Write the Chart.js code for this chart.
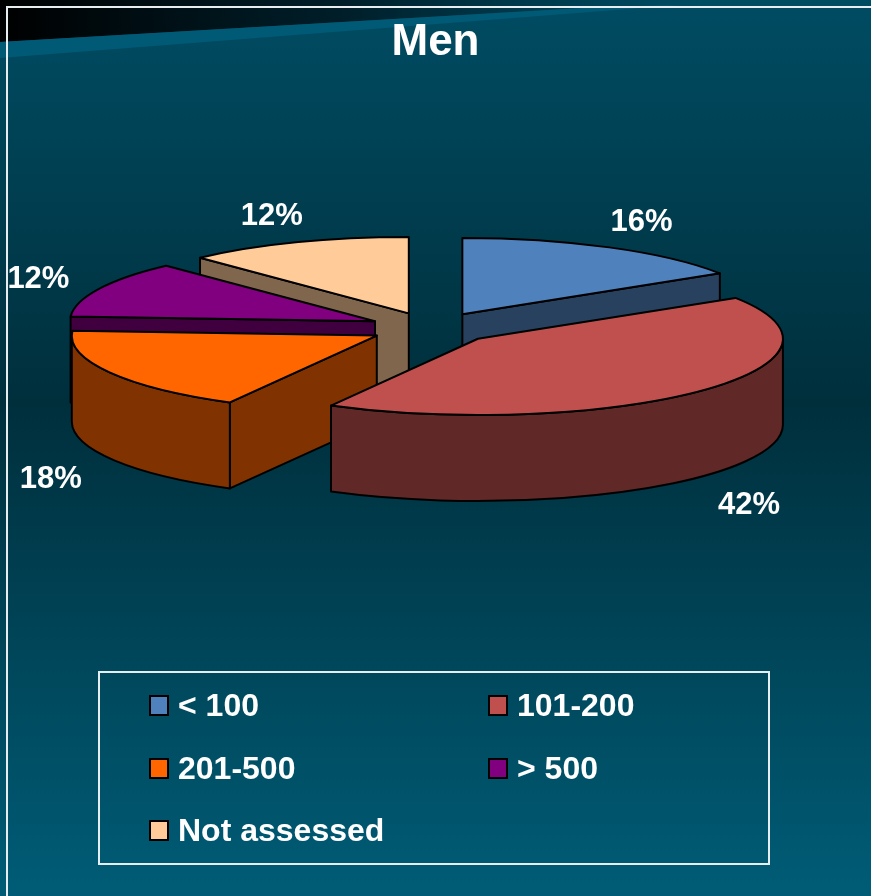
<!DOCTYPE html>
<html>
<head>
<meta charset="utf-8">
<title>Men</title>
<script src="https://cdn.jsdelivr.net/npm/chart.js@4.4.0/dist/chart.umd.min.js"></script>
<style>
    html, body { margin: 0; padding: 0; width: 871px; height: 896px; overflow: hidden; background: #003a4a; }
    #wrap { position: relative; width: 871px; height: 896px; }
    #pie { position: absolute; left: 0; top: 0; }
    #legend {
        position: absolute; left: 98px; top: 671px; width: 668px; height: 190px;
        border: 2px solid #e6eef0;
        font: bold 32px "Liberation Sans", Arial, sans-serif; color: #fff;
    }
    .item { position: absolute; display: flex; align-items: center; height: 36px; white-space: nowrap; }
    .swatch { width: 16px; height: 17px; border: 2px solid #000; margin-right: 9px; }
</style>
</head>
<body>
<div id="wrap">
    <canvas id="pie" width="871" height="896"></canvas>
    <div id="legend"></div>
</div>
<script>
// Data
const LABELS = ['< 100', '101-200', '201-500', '> 500', 'Not assessed'];
const SHARES = [16, 42, 18, 12, 12];
const COLORS = ['#4F81BD', '#C0504D', '#FF6600', '#800080', '#FFCC99'];
const TITLE = 'Men';

// 3D pie look (page pixels)
const CX = 432, CY = 328;      // centre of the pie top before exploding
const RADIUS = 305;
const TILT = 0.25;             // vertical squash of the top face
const DEPTH = 86;
const EXPLODE = 63;
const LABEL_RX = 372, LABEL_RY = 110, LABEL_DY = 5;

function shade(hex, f) {
    const n = parseInt(hex.slice(1), 16);
    const r = Math.round(((n >> 16) & 255) * f);
    const g = Math.round(((n >> 8) & 255) * f);
    const b = Math.round((n & 255) * f);
    return `rgb(${r},${g},${b})`;
}

// Slide background, stripe and frame
const slideBackground = {
    id: 'slideBackground',
    beforeDraw(chart) {
        const { ctx, width, height } = chart;
        ctx.save();
        const g = ctx.createLinearGradient(0, 0, 0, height);
        g.addColorStop(0, '#004c63');
        g.addColorStop(0.45, '#002f3c');
        g.addColorStop(1, '#005c76');
        ctx.fillStyle = g;
        ctx.fillRect(0, 0, width, height);

        // dark corner above the stripe
        const dark = ctx.createLinearGradient(0, 0, 700, 0);
        dark.addColorStop(0, 'rgba(0,0,0,1)');
        dark.addColorStop(0.5, 'rgba(0,20,28,0.8)');
        dark.addColorStop(1, 'rgba(0,40,55,0)');
        ctx.fillStyle = dark;
        ctx.beginPath();
        ctx.moveTo(0, 0);
        ctx.lineTo(width, 0);
        ctx.lineTo(width, 4);
        ctx.lineTo(600, 7);
        ctx.lineTo(0, 42);
        ctx.closePath();
        ctx.fill();

        // light stripe
        ctx.fillStyle = '#005a76';
        ctx.beginPath();
        ctx.moveTo(0, 42);
        ctx.lineTo(600, 7);
        ctx.lineTo(680, 5);
        ctx.lineTo(0, 58);
        ctx.closePath();
        ctx.fill();

        // frame
        ctx.strokeStyle = '#e8eef0';
        ctx.lineWidth = 2;
        ctx.beginPath();
        ctx.moveTo(width, 7);
        ctx.lineTo(7, 7);
        ctx.lineTo(7, height);
        ctx.stroke();
        ctx.restore();
    }
};

// Draw the pie as an exploded 3D pie from the arcs Chart.js computed
const pie3d = {
    id: 'pie3d',
    beforeDatasetsDraw(chart) {
        const ctx = chart.ctx;
        const arcs = chart.getDatasetMeta(0).data;
        const slices = arcs.map((arc, i) => {
            const mid = (arc.startAngle + arc.endAngle) / 2;
            return {
                arc, i, mid,
                a0: arc.startAngle,
                a1: arc.endAngle,
                ax: CX + EXPLODE * Math.cos(mid),
                ay: CY + EXPLODE * TILT * Math.sin(mid)
            };
        });
        const pt = (s, t, dy) => [s.ax + RADIUS * Math.cos(t), s.ay + RADIUS * TILT * Math.sin(t) + (dy || 0)];

        ctx.save();
        ctx.lineWidth = 2;
        ctx.strokeStyle = '#000';
        ctx.lineJoin = 'round';

        const radialWall = (s, e) => {
            const p = pt(s, e);
            ctx.beginPath();
            ctx.moveTo(s.ax, s.ay);
            ctx.lineTo(p[0], p[1]);
            ctx.lineTo(p[0], p[1] + DEPTH);
            ctx.lineTo(s.ax, s.ay + DEPTH);
            ctx.closePath();
            ctx.fill();
            ctx.stroke();
        };
        const outerWall = (s, t0, t1) => {
            const p1 = pt(s, t1, DEPTH);
            ctx.beginPath();
            ctx.ellipse(s.ax, s.ay, RADIUS, RADIUS * TILT, 0, t0, t1);
            ctx.lineTo(p1[0], p1[1]);
            ctx.ellipse(s.ax, s.ay + DEPTH, RADIUS, RADIUS * TILT, 0, t1, t0, true);
            ctx.closePath();
            ctx.fill();
            ctx.stroke();
        };

        // side walls, back to front
        [...slices].sort((a, b) => Math.sin(a.mid) - Math.sin(b.mid)).forEach(s => {
            ctx.fillStyle = shade(COLORS[s.i], 0.5);
            if (Math.cos(s.a0) < -1e-6) radialWall(s, s.a0);
            if (Math.cos(s.a1) > 1e-6) radialWall(s, s.a1);
            const t0 = Math.max(s.a0, 0), t1 = Math.min(s.a1, Math.PI);
            if (t1 > t0) outerWall(s, t0, t1);
        });

        // top faces: the library's own arcs, squashed and moved out
        slices.forEach(s => {
            ctx.save();
            ctx.translate(s.ax, s.ay);
            ctx.scale(1, TILT);
            ctx.translate(-s.arc.x, -s.arc.y);
            s.arc.draw(ctx);
            ctx.restore();

            const p0 = pt(s, s.a0);
            ctx.beginPath();
            ctx.moveTo(s.ax, s.ay);
            ctx.lineTo(p0[0], p0[1]);
            ctx.ellipse(s.ax, s.ay, RADIUS, RADIUS * TILT, 0, s.a0, s.a1);
            ctx.closePath();
            ctx.stroke();
        });

        // percentage labels
        ctx.fillStyle = '#fff';
        ctx.font = 'bold 31px "Liberation Sans", Arial, sans-serif';
        ctx.textAlign = 'center';
        ctx.textBaseline = 'middle';
        slices.forEach(s => {
            const c = Math.cos(s.mid), sn = Math.sin(s.mid);
            const x = s.ax + LABEL_RX * c;
            const y = s.ay + LABEL_RY * sn + (sn > 0 ? DEPTH : 0) + LABEL_DY;
            ctx.fillText(SHARES[s.i] + '%', x, y);
        });
        ctx.restore();
        return false;
    }
};

const chart = new Chart(document.getElementById('pie'), {
    type: 'pie',
    data: {
        labels: LABELS,
        datasets: [{
            data: SHARES,
            backgroundColor: COLORS,
            borderWidth: 0,
            clip: false
        }]
    },
    options: {
        responsive: false,
        animation: false,
        radius: RADIUS,
        layout: { padding: 0 },
        events: [],
        plugins: {
            legend: { display: false },
            tooltip: { enabled: false },
            title: {
                display: true,
                text: TITLE,
                color: '#ffffff',
                font: { family: '"Liberation Sans", Arial, sans-serif', size: 44, weight: 'bold' },
                padding: { top: 16, bottom: 10 }
            }
        }
    },
    plugins: [slideBackground, pie3d]
});

// Two-column legend in a framed box
const legendBox = document.getElementById('legend');
const COL_X = [49, 388];
const ROW_Y = [14, 77, 139];
LABELS.forEach((label, i) => {
    const item = document.createElement('div');
    item.className = 'item';
    item.style.left = COL_X[i % 2] + 'px';
    item.style.top = ROW_Y[Math.floor(i / 2)] + 'px';
    item.innerHTML = `<span class="swatch" style="background:${COLORS[i]}"></span>${label}`;
    legendBox.appendChild(item);
});
</script>
</body>
</html>
